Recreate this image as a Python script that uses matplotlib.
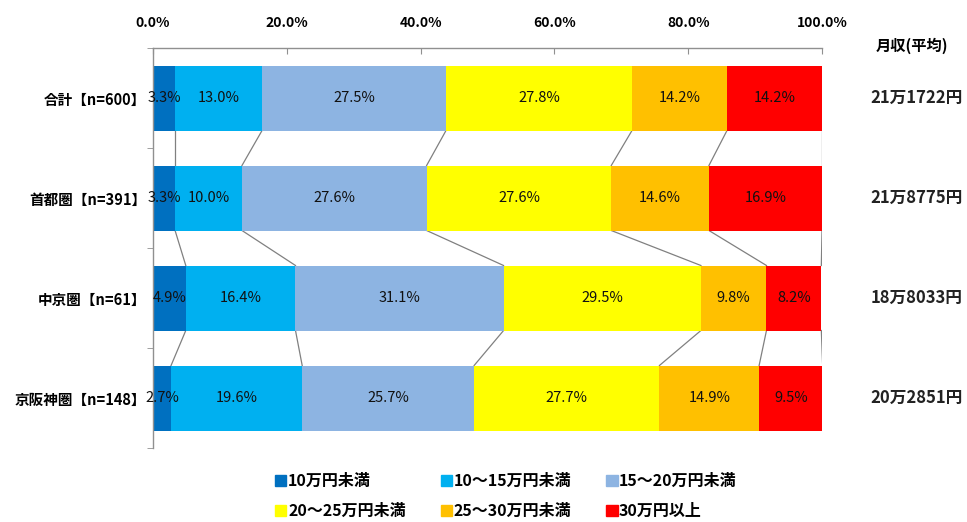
import matplotlib
matplotlib.use("Agg")
import matplotlib.pyplot as plt
import numpy as np
from matplotlib.patches import Patch

plt.rcParams['font.family'] = ['Noto Sans CJK JP', 'DejaVu Sans']

# data
regions = ['合計【n=600】', '首都圏【n=391】', '中京圏【n=61】', '京阪神圏【n=148】']
brackets = ['10万円未満', '10〜15万円未満', '15〜20万円未満',
            '20〜25万円未満', '25〜30万円未満', '30万円以上']
share_total = [3.3, 13.0, 27.5, 27.8, 14.2, 14.2]
share_shuto = [3.3, 10.0, 27.6, 27.6, 14.6, 16.9]
share_chukyo = [4.9, 16.4, 31.1, 29.5, 9.8, 8.2]
share_keihan = [2.7, 19.6, 25.7, 27.7, 14.9, 9.5]
avg_income = ['21万1722円', '21万8775円', '18万8033円', '20万2851円']
xticks = [0, 20, 40, 60, 80, 100]

colors = ['#0070C0', '#00B0F0', '#8DB4E2', '#FFFF00', '#FFC000', '#FF0000']

shares = np.array([share_total, share_shuto, share_chukyo, share_keihan])
cum = np.cumsum(shares, axis=1)
left = cum - shares
h = 0.65
y = np.arange(len(regions))

fig = plt.figure(figsize=(9.67, 5.22), dpi=100)
ax = fig.add_axes([153/967, 1 - 448/522, 669/967, 400/522])

for j in range(len(brackets)):
    ax.barh(y, shares[:, j], left=left[:, j], height=h, color=colors[j],
            edgecolor='none', label=brackets[j], zorder=2)
    for i in range(len(regions)):
        ax.text(left[i, j] + shares[i, j] / 2, y[i], f'{shares[i, j]:.1f}%',
                ha='center', va='center', fontsize=10.5, color='#111111', zorder=3)

# series lines between bars
for i in range(len(regions) - 1):
    for j in range(len(brackets)):
        ax.plot([cum[i, j], cum[i + 1, j]], [y[i] + h / 2, y[i + 1] - h / 2],
                color='#808080', lw=0.9, zorder=1)

ax.set_xlim(0, 100)
ax.set_ylim(len(regions) - 0.5, -0.5)
ax.xaxis.tick_top()
ax.set_xticks(xticks)
ax.set_xticklabels([f'{v:.1f}%' for v in xticks], fontsize=10, fontweight='bold')
ax.tick_params(axis='x', direction='in', length=4, color='#909090', pad=13)
ax.set_yticks(y)
ax.set_yticklabels(regions, fontsize=10.5, fontweight='bold')
ax.tick_params(axis='y', length=0, pad=5)
ax.set_yticks(np.arange(-0.5, len(regions)), minor=True)
ax.tick_params(axis='y', which='minor', length=4, color='#909090')
for s in ['right', 'bottom']:
    ax.spines[s].set_visible(False)
for s in ['top', 'left']:
    ax.spines[s].set_color('#909090')
    ax.spines[s].set_linewidth(1.0)

# average monthly income column
fig.text(912/967, 1 - 46/522, '月収(平均)', ha='center', va='center',
         fontsize=11, fontweight='bold')
for i in range(len(regions)):
    ax.text(1.141, y[i], avg_income[i], transform=ax.get_yaxis_transform(),
            ha='center', va='center', fontsize=12, fontweight='bold', color='#222222')

# legend, row-wise order
handles = [Patch(color=c) for c in colors]
order = [0, 3, 1, 4, 2, 5]
fig.legend([handles[k] for k in order], [brackets[k] for k in order],
           ncol=3, loc='center', bbox_to_anchor=(506/967, 1 - 496/522),
           frameon=False, handlelength=0.7, handleheight=0.7, handletextpad=0.1,
           columnspacing=2.2, labelspacing=0.85, borderpad=0.2,
           prop={'size': 11.5, 'weight': 'bold'})

plt.savefig('out.png', dpi=100)
